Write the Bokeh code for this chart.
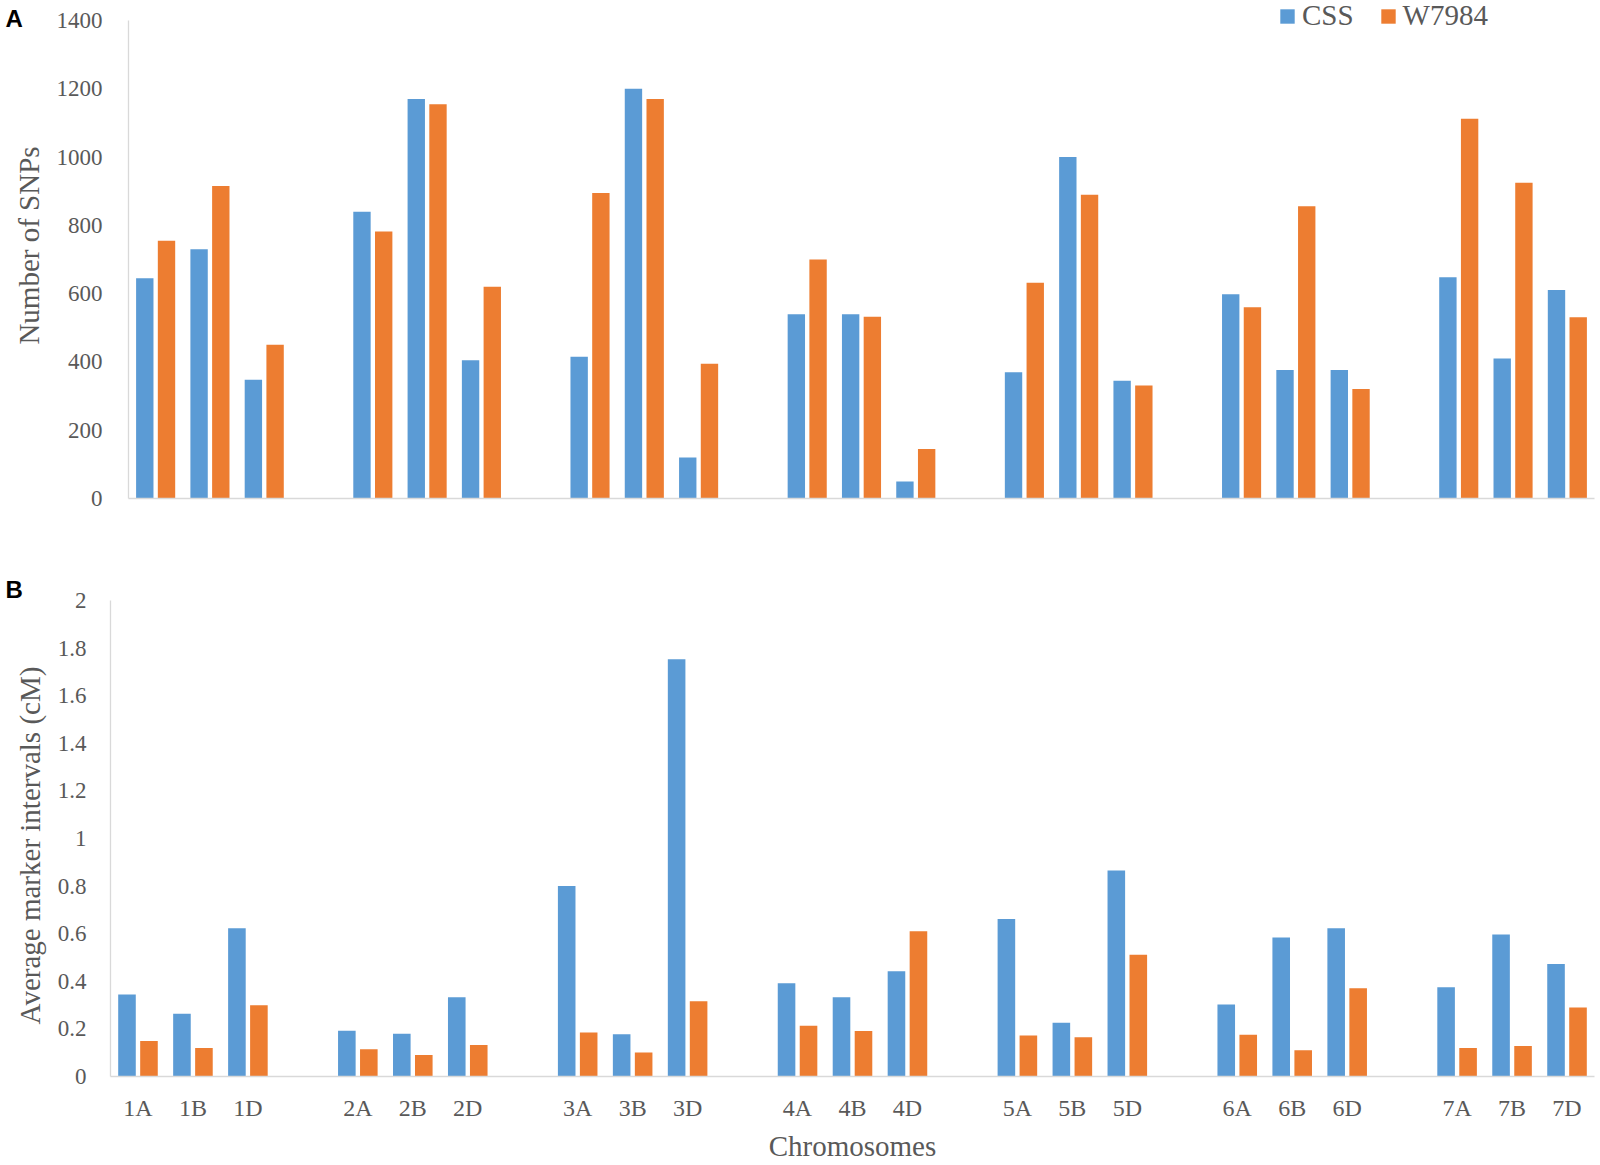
import math
from bokeh.plotting import figure
from bokeh.models import (ColumnDataSource, Range1d, FixedTicker, Legend, LegendItem,
                          CustomJSTickFormatter)
from bokeh.core.properties import value
from bokeh.transform import dodge
from bokeh.layouts import column, row
from bokeh.embed import file_html
from bokeh.resources import INLINE

# ---------------- data ----------------
chromosomes = ["1A", "1B", "1D", "2A", "2B", "2D", "3A", "3B", "3D", "4A", "4B", "4D",
               "5A", "5B", "5D", "6A", "6B", "6D", "7A", "7B", "7D"]
series_names = ["CSS", "W7984"]
snps_css = [645, 730, 348, 840, 1170, 405, 415, 1200, 120, 540, 540, 50,
            370, 1000, 345, 598, 376, 376, 648, 410, 611]
snps_w7984 = [755, 915, 450, 782, 1155, 620, 895, 1170, 395, 700, 532, 145,
              632, 890, 331, 560, 856, 321, 1112, 925, 531]
interval_css = [0.345, 0.264, 0.623, 0.192, 0.180, 0.333, 0.800, 0.178, 1.753, 0.392, 0.333, 0.442,
                0.662, 0.226, 0.866, 0.303, 0.584, 0.623, 0.375, 0.597, 0.473]
interval_w7984 = [0.149, 0.120, 0.299, 0.114, 0.090, 0.132, 0.185, 0.101, 0.316, 0.213, 0.191, 0.610,
                  0.172, 0.165, 0.512, 0.175, 0.110, 0.371, 0.120, 0.128, 0.290]
snp_ticks = [0, 200, 400, 600, 800, 1000, 1200, 1400]
interval_ticks = [0, 0.2, 0.4, 0.6, 0.8, 1.0, 1.2, 1.4, 1.6, 1.8, 2.0]
panel_letters = ["A", "B"]
y_titles = ["Number of SNPs", "Average marker intervals (cM)"]
x_title = "Chromosomes"

# ---------------- style ----------------
BLUE = "#5B9BD5"
ORANGE = "#ED7D31"
AXIS = "#D9D9D9"
TXT = "#595959"
SERIF = "Liberation Serif"

# slot of each chromosome on the x scale: one empty slot between the groups of three
positions = [i + i // 3 for i in range(len(chromosomes))]
n_slots = positions[-1] + 1

src = ColumnDataSource(dict(pos=positions, chrom=chromosomes,
                            snps_css=snps_css, snps_w=snps_w7984,
                            int_css=interval_css, int_w=interval_w7984))


def style(p):
    p.xgrid.visible = False
    p.ygrid.visible = False
    p.outline_line_color = None
    p.axis.major_tick_line_color = None
    p.axis.minor_tick_line_color = None
    p.axis.axis_line_color = AXIS
    p.axis.axis_line_width = 1.3
    p.axis.major_label_text_font = SERIF
    p.axis.major_label_text_color = TXT
    p.axis.major_label_text_font_size = "23px"
    p.axis.axis_label_text_font = SERIF
    p.axis.axis_label_text_color = TXT
    p.axis.axis_label_text_font_size = "29px"
    p.axis.axis_label_text_font_style = "normal"


SIDE_W = 48
MAIN_W = 1600 - SIDE_W
H_A = 538
H_B = 1165 - H_A

# page rows (px from the top of the page) of the plot frames
A_TOP, A_BOTTOM, A_1400 = 0, 498, 20
B_TOP, B_BOTTOM, B_2 = 578, 1076, 600


def side_strip(height, top, bottom, letter, letter_y, title, title_x, title_y):
    # a Bokeh row aligns this strip's frame with the neighbouring plot frame,
    # so its y range spans the same page rows as that frame
    s = figure(width=SIDE_W, height=height, output_backend="svg", toolbar_location=None,
               x_range=Range1d(0, SIDE_W), y_range=Range1d(bottom, top),
               x_axis_location=None, y_axis_location=None,
               min_border_left=0, min_border_right=0, min_border_top=0, min_border_bottom=0)
    s.xgrid.visible = False
    s.ygrid.visible = False
    s.outline_line_color = None
    s.text(x=[5], y=[letter_y], text=[letter],
           text_font=value("Liberation Sans"), text_font_style="bold",
           text_font_size="24px", text_color="black",
           text_align="left", text_baseline="middle")
    s.text(x=[title_x], y=[title_y], text=[title], angle=math.pi / 2,
           text_font=value(SERIF), text_font_size="29px", text_color=TXT,
           text_align="center", text_baseline="middle")
    return s


# ---------------- panel A ----------------
a_px_per_unit = (A_BOTTOM - A_1400) / 1400
pa = figure(width=MAIN_W, height=H_A, output_backend="svg", toolbar_location=None,
            x_range=Range1d(-0.5, n_slots - 0.5),
            y_range=Range1d(0, 1400 + (A_1400 - A_TOP) / a_px_per_unit),
            min_border_left=128 - SIDE_W, min_border_right=6,
            min_border_top=A_TOP, min_border_bottom=H_A - A_BOTTOM)
ra1 = pa.vbar(x=dodge("pos", -0.2), top="snps_css", width=0.32,
              source=src, fill_color=BLUE, line_color=None)
ra2 = pa.vbar(x=dodge("pos", 0.2), top="snps_w", width=0.32,
              source=src, fill_color=ORANGE, line_color=None)
style(pa)
pa.xaxis.ticker = FixedTicker(ticks=[])
pa.yaxis.ticker = FixedTicker(ticks=snp_ticks)
pa.yaxis.bounds = (0, 1400)
pa.yaxis.major_label_standoff = 20

legend = Legend(items=[LegendItem(label=series_names[0], renderers=[ra1]),
                       LegendItem(label=series_names[1], renderers=[ra2])],
                orientation="horizontal", location=(1150, 466),
                label_text_font=SERIF, label_text_font_size="29px", label_text_color=TXT,
                glyph_width=18, glyph_height=18, label_standoff=6, spacing=25,
                padding=0, margin=0, border_line_color=None, background_fill_alpha=0)
pa.add_layout(legend)

# ---------------- panel B ----------------
b_px_per_unit = (B_BOTTOM - B_2) / 2
pb = figure(width=MAIN_W, height=H_B, output_backend="svg", toolbar_location=None,
            x_range=Range1d(-0.5, n_slots - 0.5),
            y_range=Range1d(0, 2 + (B_2 - B_TOP) / b_px_per_unit),
            min_border_left=110 - SIDE_W, min_border_right=6,
            min_border_top=B_TOP - H_A, min_border_bottom=1165 - B_BOTTOM)
pb.vbar(x=dodge("pos", -0.2), top="int_css", width=0.32,
        source=src, fill_color=BLUE, line_color=None)
pb.vbar(x=dodge("pos", 0.2), top="int_w", width=0.32,
        source=src, fill_color=ORANGE, line_color=None)
style(pb)
pb.yaxis.ticker = FixedTicker(ticks=interval_ticks)
pb.yaxis.bounds = (0, 2)
pb.yaxis.formatter = CustomJSTickFormatter(code="return (Math.round(tick*10)/10).toString();")
pb.yaxis.major_label_standoff = 18
pb.xaxis.ticker = FixedTicker(ticks=positions)
pb.xaxis.major_label_overrides = {p: c for p, c in zip(positions, chromosomes)}
pb.xaxis.major_label_text_font_size = "24px"
pb.xaxis.major_label_standoff = 12
pb.xaxis.axis_label = x_title
pb.xaxis.axis_label_standoff = 6

# ---------------- left strips: panel letters and y titles ----------------
side_a = side_strip(H_A, A_TOP, A_BOTTOM, panel_letters[0], 18, y_titles[0], 28, 245)
side_b = side_strip(H_B, B_TOP, B_BOTTOM, panel_letters[1], 589, y_titles[1], 29.5, 845)

layout = column(row(side_a, pa, spacing=0), row(side_b, pb, spacing=0), spacing=0)
open("out.html", "w").write(file_html(layout, INLINE))
